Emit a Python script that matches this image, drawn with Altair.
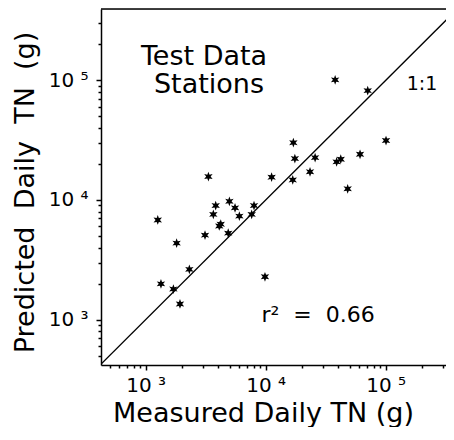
import altair as alt
import pandas as pd

# ---- data ----
measured = [37900, 70800, 100600, 17000, 17500, 25800, 39000, 42200, 61100, 48200,
            23400, 16800, 11200, 3330, 1260, 1810, 1340, 1700, 1930, 2310,
            3120, 3830, 3660, 4100, 4220, 4980, 5550, 6030, 4870, 7640,
            7990, 9860]
predicted = [101000, 82000, 31400, 30100, 22200, 22600, 20800, 21900, 24100, 12400,
             17200, 14700, 15500, 15700, 6800, 4360, 1990, 1800, 1350, 2630,
             5080, 8980, 7570, 6060, 6270, 9750, 8590, 7330, 5280, 7570,
             8980, 2280]

one_to_one = [400, 400000]
x_domain = [424, 318000]
y_domain = [417, 395000]

tick_values = [500, 600, 700, 800, 900,
               1000, 2000, 3000, 4000, 5000, 6000, 7000, 8000, 9000,
               10000, 20000, 30000, 40000, 50000, 60000, 70000, 80000, 90000,
               100000, 200000, 300000]
major_values = [1000, 10000, 100000]
major_labels = ["10 ³", "10 ⁴", "10 ⁵"]

FONT = "DejaVu Sans"
W, H = 345, 356
NB = "\u00a0"

label_expr = " : ".join(
    f"datum.value == {v} ? '{l}'" for v, l in zip(major_values, major_labels)
) + " : ''"
major_test = " || ".join(f"datum.value == {v}" for v in major_values)

df = pd.DataFrame({"measured": measured, "predicted": predicted})
line_df = pd.DataFrame({"measured": one_to_one, "predicted": one_to_one})

common_axis = dict(
    values=tick_values,
    labelExpr=label_expr,
    labelFont=FONT,
    labelFontSize=20,
    labelColor="black",
    labelOverlap=False,
    labelFlush=False,
    labelBound=False,
    tickColor="black",
    tickWidth=1.5,
    tickSize={"condition": {"test": major_test, "value": 5}, "value": 3},
    domainColor="black",
    domainWidth=1.5,
    grid=False,
    titleFont=FONT,
    titleFontSize=27,
    titleFontWeight="normal",
    titleColor="black",
)

x_enc = alt.X("measured:Q", scale=alt.Scale(type="log", domain=x_domain),
              axis=alt.Axis(title="Measured Daily TN (g)", labelPadding=5,
                            titleX=162, titleY=56, titleAlign="center",
                            titleBaseline="alphabetic", **common_axis))
y_enc = alt.Y("predicted:Q", scale=alt.Scale(type="log", domain=y_domain),
              axis=alt.Axis(title=f"Predicted{NB}{NB}Daily{NB}{NB}TN{NB}{NB}(g)",
                            labelPadding=8,
                            titleX=-76, titleY=183, titleAlign="center",
                            titleBaseline="middle", titleAngle=-90,
                            **common_axis))

star = ("M0,-1L0.225,-0.39L0.866,-0.5L0.45,0L0.866,0.5L0.225,0.39L0,1"
        "L-0.225,0.39L-0.866,0.5L-0.45,0L-0.866,-0.5L-0.225,-0.39Z")

line = alt.Chart(line_df).mark_line(color="black", strokeWidth=1.3, clip=True).encode(
    x=x_enc, y=y_enc)
points = alt.Chart(df).mark_point(shape=star, filled=True, color="black",
                                  opacity=1, size=95).encode(x=x_enc, y=y_enc)

def label(text, px, py, size):
    return alt.Chart(pd.DataFrame({"t": [text]})).mark_text(
        font=FONT, fontSize=size, color="black", align="center",
        baseline="alphabetic").encode(x=alt.value(px), y=alt.value(py),
                                      text="t:N")

t1 = label("Test Data", 103, 56, 27)
t2 = label("Stations", 108, 84, 27)
t3 = label("1:1", 321, 81, 19)
t4 = label(f"r²{NB}{NB}={NB}{NB}0.66", 217, 313, 22)

top = alt.Chart(pd.DataFrame({"a": [0]})).mark_rule(color="black", strokeWidth=1.5).encode(
    x=alt.value(0), x2=alt.value(W), y=alt.value(0))

chart = alt.layer(line, points, t1, t2, t3, t4, top).properties(
    width=W, height=H,
    autosize=alt.AutoSizeParams(type="none"),
    padding={"left": 93, "top": 1, "right": 0, "bottom": 62},
).configure_view(stroke=None).configure(background="white")

chart.save("out.html", embed_options={"renderer": "svg", "actions": False})
